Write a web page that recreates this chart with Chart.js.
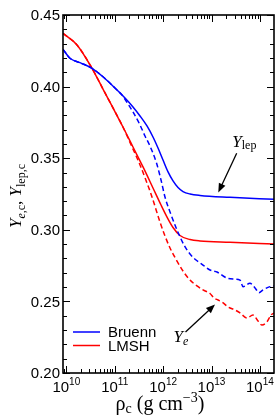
<!DOCTYPE html>
<html>
<head>
<meta charset="utf-8">
<script src="https://cdn.jsdelivr.net/npm/chart.js@4.4.1/dist/chart.umd.min.js"></script>
<style>
  html, body { margin: 0; padding: 0; background: #fff; }
  #wrap { width: 277px; height: 416px; }
</style>
</head>
<body>
<div id="wrap"><canvas id="chart" width="277" height="416"></canvas></div>
<script>
// values; x given as log10(rho_c / g cm^-3)
const seriesNames = ['Bruenn', 'LMSH'];

const bruennLepLog = [9.932, 10.076, 10.283, 10.531, 10.758, 11.048, 11.213, 11.378, 11.523, 11.667, 11.791, 11.895, 11.998, 12.102, 12.205, 12.308, 12.411, 12.556, 12.762, 13.382, 14.291];
const bruennLep    = [0.4260, 0.4198, 0.4167, 0.4128, 0.4069, 0.3976, 0.3920, 0.3858, 0.3795, 0.3725, 0.3648, 0.3571, 0.3487, 0.3404, 0.3341, 0.3295, 0.3267, 0.3250, 0.3240, 0.3227, 0.3213];

const bruennYeLog = [9.932, 10.076, 10.283, 10.531, 10.758, 11.048, 11.151, 11.275, 11.378, 11.523, 11.626, 11.729, 11.864, 11.957, 12.039, 12.143, 12.287, 12.432, 12.556, 12.680, 12.824, 12.969, 13.114, 13.320, 13.486, 13.589, 13.651, 13.795, 13.899, 13.981, 14.064, 14.209, 14.291];
const bruennYe    = [0.4260, 0.4198, 0.4167, 0.4128, 0.4069, 0.3976, 0.3941, 0.3879, 0.3823, 0.3732, 0.3655, 0.3585, 0.3466, 0.3348, 0.3229, 0.3124, 0.2999, 0.2894, 0.2831, 0.2789, 0.2754, 0.2719, 0.2705, 0.2663, 0.2656, 0.2649, 0.2603, 0.2626, 0.2594, 0.2561, 0.2580, 0.2603, 0.2608];

const lmshLepLog = [9.932, 10.221, 10.531, 10.758, 10.965, 11.171, 11.378, 11.585, 11.791, 11.957, 12.081, 12.205, 12.349, 12.556, 12.762, 13.382, 14.291];
const lmshLep    = [0.4372, 0.4291, 0.4128, 0.3983, 0.3851, 0.3718, 0.3578, 0.3439, 0.3292, 0.3173, 0.3089, 0.3016, 0.2960, 0.2932, 0.2922, 0.2913, 0.2901];

const lmshYeLog = [9.932, 10.221, 10.531, 10.758, 10.965, 11.171, 11.316, 11.523, 11.667, 11.729, 11.791, 11.936, 12.039, 12.143, 12.287, 12.411, 12.556, 12.700, 12.824, 12.969, 13.052, 13.134, 13.217, 13.341, 13.486, 13.589, 13.733, 13.857, 13.961, 14.043, 14.147, 14.229, 14.291];
const lmshYe    = [0.4372, 0.4291, 0.4128, 0.3983, 0.3851, 0.3718, 0.3610, 0.3453, 0.3327, 0.3271, 0.3208, 0.3054, 0.2957, 0.2873, 0.2782, 0.2712, 0.2649, 0.2608, 0.2580, 0.2555, 0.2524, 0.2510, 0.2496, 0.2461, 0.2440, 0.2419, 0.2384, 0.2405, 0.2363, 0.2335, 0.2358, 0.2405, 0.2419];

const yTicks = [0.20, 0.25, 0.30, 0.35, 0.40, 0.45];
const yTickLabels = ['0.20', '0.25', '0.30', '0.35', '0.40', '0.45'];
const xTickExps = [10, 11, 12, 13, 14];

const BLUE = '#0000ff', RED = '#ff0000';
const SANS = '"Liberation Sans", Arial, sans-serif';
const SERIF = '"Liberation Serif", "Times New Roman", serif';

function pts(logs, ys) {
  return logs.map((lg, i) => ({ x: Math.pow(10, lg), y: ys[i] }));
}

// draw a row of text pieces with their own font / vertical shift
function drawRuns(ctx, x, y, runs, align) {
  let w = 0;
  runs.forEach(r => { ctx.font = r.font; r.w = ctx.measureText(r.t).width; w += r.w; });
  let cx = align === 'center' ? x - w / 2 : x;
  runs.forEach(r => {
    ctx.font = r.font;
    ctx.fillText(r.t, cx, y + (r.dy || 0));
    cx += r.w;
  });
}

function arrow(ctx, x0, y0, x1, y1) {
  const ang = Math.atan2(y1 - y0, x1 - x0), L = 9, H = 3.6;
  ctx.beginPath();
  ctx.moveTo(x0, y0);
  ctx.lineTo(x1 - L * 0.8 * Math.cos(ang), y1 - L * 0.8 * Math.sin(ang));
  ctx.stroke();
  ctx.beginPath();
  ctx.moveTo(x1, y1);
  ctx.lineTo(x1 - L * Math.cos(ang) + H * Math.sin(ang), y1 - L * Math.sin(ang) - H * Math.cos(ang));
  ctx.lineTo(x1 - L * Math.cos(ang) - H * Math.sin(ang), y1 - L * Math.sin(ang) + H * Math.cos(ang));
  ctx.closePath();
  ctx.fill();
}

const frame = {
  id: 'frame',
  afterDraw(chart) {
    const { ctx, chartArea: a, scales: { x, y } } = chart;
    const X = lg => x.getPixelForValue(Math.pow(10, lg));
    ctx.save();
    ctx.fillStyle = '#000';
    ctx.strokeStyle = '#000';

    // ticks, inward on all four sides
    ctx.lineWidth = 1;
    ctx.beginPath();
    for (let d = 9; d <= 14; d++) {
      for (let k = 1; k <= 9; k++) {
        const v = k * Math.pow(10, d);
        if (v < x.min || v > x.max) continue;
        const px = Math.round(x.getPixelForValue(v)) + 0.5;
        const len = k === 1 ? 7 : 4;
        ctx.moveTo(px, a.bottom); ctx.lineTo(px, a.bottom - len);
        ctx.moveTo(px, a.top); ctx.lineTo(px, a.top + len);
      }
    }
    for (let i = 20; i <= 45; i++) {
      const py = Math.round(y.getPixelForValue(i / 100)) + 0.5;
      const len = i % 5 === 0 ? 7 : 4;
      ctx.moveTo(a.left, py); ctx.lineTo(a.left + len, py);
      ctx.moveTo(a.right, py); ctx.lineTo(a.right - len, py);
    }
    ctx.stroke();

    ctx.lineWidth = 1.6;
    ctx.strokeRect(a.left, a.top, a.right - a.left, a.bottom - a.top);

    // y tick labels
    ctx.font = '15px ' + SANS;
    ctx.textAlign = 'right';
    ctx.textBaseline = 'middle';
    yTicks.forEach((v, i) => ctx.fillText(yTickLabels[i], a.left - 3, y.getPixelForValue(v) + 1));

    // x tick labels 10^n
    ctx.textAlign = 'left';
    ctx.textBaseline = 'alphabetic';
    xTickExps.forEach(e => {
      drawRuns(ctx, x.getPixelForValue(Math.pow(10, e)), a.bottom + 19, [
        { t: '10', font: '15px ' + SANS },
        { t: String(e), font: '10px ' + SANS, dy: -7 }
      ], 'center');
    });

    // x title
    drawRuns(ctx, 160, a.bottom + 37, [
      { t: 'ρ', font: '20px ' + SERIF },
      { t: 'c', font: '14px ' + SERIF, dy: 3 },
      { t: ' (g cm', font: '20px ' + SERIF },
      { t: '−3', font: '14px ' + SERIF, dy: -8 },
      { t: ')', font: '20px ' + SERIF }
    ], 'center');

    // y title (rotated)
    ctx.save();
    ctx.translate(21, (a.top + a.bottom) / 2 + 2);
    ctx.rotate(-Math.PI / 2);
    drawRuns(ctx, 0, 0, [
      { t: 'Y', font: 'italic 17px ' + SERIF },
      { t: 'e', font: 'italic 12px ' + SERIF, dy: 4 },
      { t: ',c', font: '12px ' + SERIF, dy: 4 },
      { t: ', ', font: '17px ' + SERIF },
      { t: 'Y', font: 'italic 17px ' + SERIF },
      { t: 'lep,c', font: '12px ' + SERIF, dy: 4 }
    ], 'center');
    ctx.restore();

    // annotations, anchored in data coordinates
    drawRuns(ctx, X(13.43), y.getPixelForValue(0.3580), [
      { t: 'Y', font: 'italic 17px ' + SERIF },
      { t: 'lep', font: '12px ' + SERIF, dy: 2 }
    ], 'left');
    ctx.lineWidth = 1.3;
    arrow(ctx, X(13.52), y.getPixelForValue(0.3534), X(13.14), y.getPixelForValue(0.3261));

    drawRuns(ctx, X(12.215), y.getPixelForValue(0.2216), [
      { t: 'Y', font: 'italic 17px ' + SERIF },
      { t: 'e', font: 'italic 12px ' + SERIF, dy: 3 }
    ], 'left');
    arrow(ctx, X(12.463), y.getPixelForValue(0.2286), X(13.072), y.getPixelForValue(0.2478));

    // legend, inside the lower left corner
    const colors = [BLUE, RED];
    ctx.font = '15px ' + SANS;
    ctx.textBaseline = 'middle';
    seriesNames.forEach((name, i) => {
      const ly = a.bottom - 41 + i * 13.5;
      ctx.strokeStyle = colors[i];
      ctx.lineWidth = 1.5;
      ctx.beginPath();
      ctx.moveTo(a.left + 10, ly); ctx.lineTo(a.left + 37, ly);
      ctx.stroke();
      ctx.fillStyle = '#000';
      ctx.fillText(name, a.left + 45, ly + 1);
    });
    ctx.restore();
  }
};

new Chart(document.getElementById('chart'), {
  type: 'line',
  data: {
    datasets: [
      { label: seriesNames[0] + ' Ylep', data: pts(bruennLepLog, bruennLep), borderColor: BLUE },
      { label: seriesNames[0] + ' Ye', data: pts(bruennYeLog, bruennYe), borderColor: BLUE, borderDash: [5, 3] },
      { label: seriesNames[1] + ' Ylep', data: pts(lmshLepLog, lmshLep), borderColor: RED },
      { label: seriesNames[1] + ' Ye', data: pts(lmshYeLog, lmshYe), borderColor: RED, borderDash: [5, 3] }
    ]
  },
  options: {
    responsive: false,
    animation: false,
    layout: { padding: { left: 63, top: 15, right: 3, bottom: 43 } },
    plugins: { legend: { display: false }, tooltip: { enabled: false } },
    elements: {
      point: { radius: 0 },
      line: { borderWidth: 1.5, fill: false, cubicInterpolationMode: 'monotone' }
    },
    scales: {
      x: { type: 'logarithmic', min: Math.pow(10, 9.932), max: Math.pow(10, 14.291), display: false },
      y: { type: 'linear', min: 0.2, max: 0.45, display: false }
    }
  },
  plugins: [frame]
});
</script>
</body>
</html>
